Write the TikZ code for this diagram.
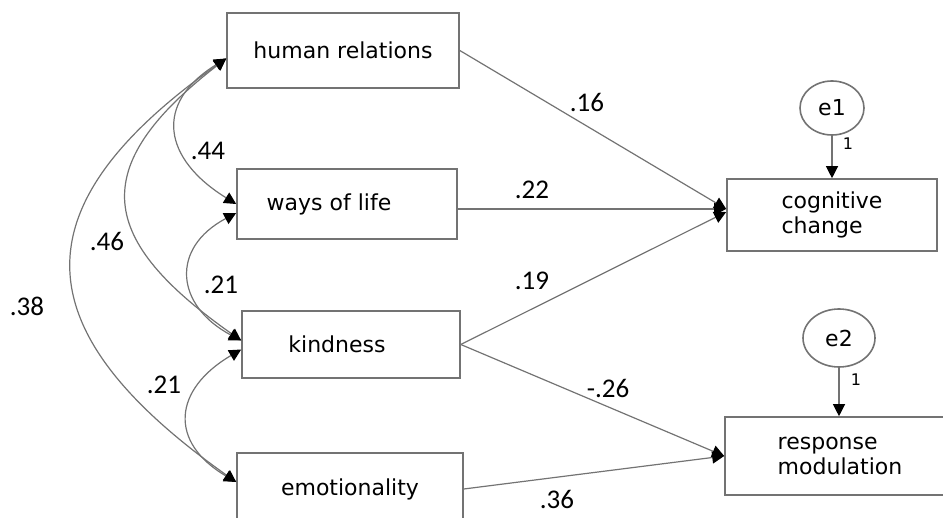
\documentclass[tikz,border=0pt]{standalone}
\usepackage{fontspec}
\setmainfont{DejaVu Sans}
\newfontfamily\numfont{Carlito}
\usetikzlibrary{arrows.meta,shapes.geometric}
\definecolor{linegray}{gray}{0.45}

\begin{document}
\begin{tikzpicture}[x=0.5pt, y=-0.5pt,
    var/.style={draw=linegray, line width=0.8pt, align=left, font=\fontsize{11}{12.5}\selectfont},
    err/.style={draw=linegray, line width=0.8pt, ellipse, inner sep=0pt, font=\fontsize{11}{12}\selectfont},
    eff/.style={draw=linegray, line width=0.6pt, -{Triangle[length=6pt,width=6pt,color=black]}},
    cov/.style={draw=linegray, line width=0.6pt, {Triangle[length=6pt,width=6pt,color=black]}-{Triangle[length=6pt,width=6pt,color=black]}},
    num/.style={font=\numfont\fontsize{13.5}{14}\selectfont},
    one/.style={font=\fontsize{8}{9}\selectfont}]
    \clip (0,0) rectangle (943,518);

    % predictors
    \node[var, minimum width=116pt, minimum height=37.5pt] (hr) at (343,50.5) {human relations};
    \node[var, minimum width=110pt, minimum height=35pt] (wol) at (347,204) {ways of life\hspace*{18pt}};
    \node[var, minimum width=109pt, minimum height=33.5pt] (kind) at (351,344.5) {kindness\hspace*{14pt}};
    \node[var, minimum width=113pt, minimum height=36pt] (emo) at (350,489) {emotionality};

    % outcomes and errors
    \node[var, minimum width=105pt, minimum height=36pt] (cog) at (832,215) {cognitive\\change};
    \node[var, minimum width=115pt, minimum height=39pt] (resp) at (840,456) {response\\modulation};
    \node[err, minimum width=32pt, minimum height=27pt] (e1) at (832,108) {e1};
    \node[err, minimum width=36pt, minimum height=29pt] (e2) at (839,338) {e2};

    % paths
    \coordinate (cin) at ([yshift=3pt]cog.west);
    \draw[eff] (hr.east) -- (cin);
    \draw[eff] (wol.east |- cin) -- (cin);
    \draw[eff] (kind.east) -- ([yshift=1.5pt]cog.west);
    \draw[eff] (kind.east) -- (resp.west);
    \draw[eff] (emo.east) -- (resp.west);
    \draw[eff] (e1.south) -- (cog.north);
    \draw[eff] (e2.south) -- (e2.south |- resp.north);

    % covariances
    \draw[cov] ([yshift=-4pt]hr.west) .. controls +(-73,45) and +(-73,-45) .. (wol.west);
    \draw[cov] ([yshift=-4pt]hr.west) .. controls +(-142,110) and +(-142,-100) .. ([yshift=2pt]kind.west);
    \draw[cov] ([yshift=-4pt]hr.west) .. controls +(-212,150) and +(-212,-150) .. ([yshift=3.5pt]emo.west);
    \draw[cov] ([yshift=-4.5pt]wol.west) .. controls +(-66,35) and +(-66,-35) .. ([yshift=2pt]kind.west);
    \draw[cov] ([yshift=-2.5pt]kind.west) .. controls +(-68,40) and +(-68,-40) .. ([yshift=3.5pt]emo.west);

    % estimates
    \node[num] (w16) at (587,102) {.16};
    \node[num] (w22) at (532,190) {.22};
    \node[num] (w19) at (532,281) {.19};
    \node[num] (w26) at (608,388) {-.26};
    \node[num] (w36) at (557,499) {.36};
    \node[num] (c44) at (208,151) {.44};
    \node[num] (c46) at (107,241) {.46};
    \node[num] (c38) at (27,306) {.38};
    \node[num] (c21a) at (221,285) {.21};
    \node[num] (c21b) at (164,385) {.21};
    \node[one] (f1) at (848,144) {1};
    \node[one] (f2) at (856,380) {1};
\end{tikzpicture}
\end{document}
